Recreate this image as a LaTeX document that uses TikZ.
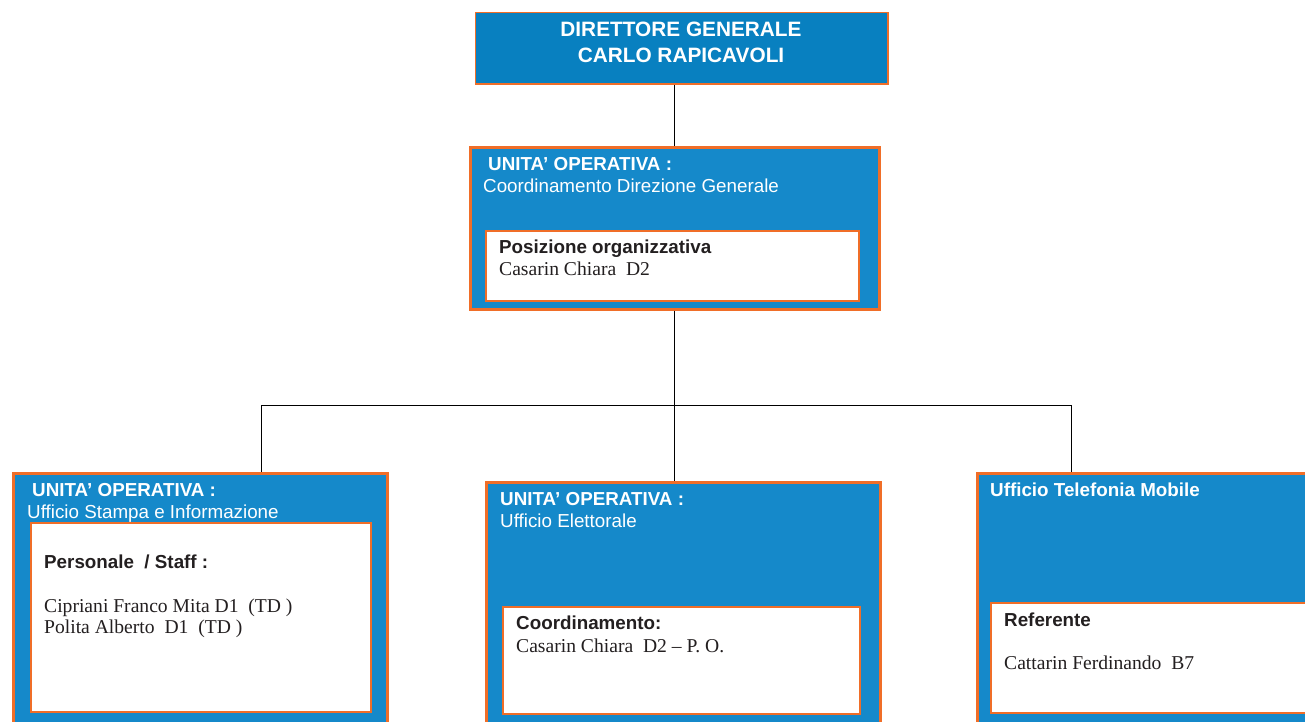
\documentclass[tikz,border=0pt]{standalone}
\usepackage{fontspec}
\setmainfont{Liberation Serif}
\setsansfont{Liberation Sans}
\definecolor{topblue}{RGB}{8,128,192}
\definecolor{boxblue}{RGB}{21,137,202}
\definecolor{edge}{RGB}{240,110,40}
\definecolor{ink}{RGB}{35,31,32}
\tikzset{
  topbox/.style={draw=edge,line width=1.5pt,fill=topblue,anchor=north west,inner sep=0pt},
  unitbox/.style={draw=edge,line width=3pt,fill=boxblue,anchor=north west,inner sep=0pt},
  whitebox/.style={draw=edge,line width=2pt,fill=white,anchor=north west,inner sep=0pt},
  conn/.style={draw=black,line width=1pt},
  hdtxt/.style={anchor=base west,inner sep=0pt,text=white,font=\fontsize{18.8}{22}\sffamily\bfseries},
  subtxt/.style={anchor=base west,inner sep=0pt,text=white,font=\fontsize{18.8}{22}\sffamily},
  labtxt/.style={anchor=base west,inner sep=0pt,text=ink,font=\fontsize{18.8}{22}\sffamily\bfseries},
  pertxt/.style={anchor=base west,inner sep=0pt,text=ink,font=\fontsize{19.6}{22}\rmfamily},
  ttltxt/.style={anchor=base,inner sep=0pt,text=white,font=\fontsize{20.8}{25}\sffamily\bfseries}
}
\begin{document}
\begin{tikzpicture}[x=1pt,y=-1pt]
\useasboundingbox (0,0) rectangle (1305,721);
\clip (0,0) rectangle (1305,721);
% boxes
\node[topbox,minimum width=412.5pt,minimum height=71.5pt] (top) at (474.75,11.75) {};
\node[unitbox,minimum width=409pt,minimum height=162pt] (uo1) at (468.5,145.5) {};
\node[whitebox,minimum width=373pt,minimum height=70pt] (w1) at (485,230) {};
\node[unitbox,minimum width=374pt,minimum height=262pt] (left) at (11.5,471.5) {};
\node[whitebox,minimum width=340pt,minimum height=189pt] (w2) at (30,522) {};
\node[unitbox,minimum width=394pt,minimum height=252pt] (mid) at (484.5,480.5) {};
\node[whitebox,minimum width=357pt,minimum height=107pt] (w3) at (502,606) {};
\node[unitbox,minimum width=360pt,minimum height=262pt] (right) at (975.5,471.5) {};
\node[whitebox,minimum width=340pt,minimum height=110pt] (w4) at (990,602) {};
% connectors
\coordinate (jl) at (261,405);
\coordinate (jr) at (1071,405);
\coordinate (j) at (uo1.south |- jl);
\draw[conn] (uo1.north |- top.south) -- (uo1.north);
\draw[conn] (uo1.south) -- (j);
\draw[conn] (jl) -- (jr);
\draw[conn] (jl) -- (jl |- left.north);
\draw[conn] (j) -- (j |- mid.north);
\draw[conn] (jr) -- (jr |- right.north);
% texts
\node[ttltxt] (t1) at (681,36.7) {DIRETTORE GENERALE};
\node[ttltxt] (t2) at (681,62) {CARLO RAPICAVOLI};
\node[hdtxt] (h1) at (488,170) {UNITA’ OPERATIVA :};
\node[subtxt] (s1) at (483,192) {Coordinamento Direzione Generale};
\node[labtxt] (l1) at (499,253) {Posizione organizzativa};
\node[pertxt] (n1) at (499,275) {Casarin Chiara\ \ D2};
\node[hdtxt] (h2) at (32,496) {UNITA’ OPERATIVA :};
\node[subtxt] (s2) at (27,518) {Ufficio Stampa e Informazione};
\node[labtxt] (l2) at (44,568) {Personale\ \ / Staff :};
\node[pertxt] (n2a) at (44,612) {Cipriani Franco Mita D1\ \ (TD )};
\node[pertxt] (n2b) at (44,633) {Polita Alberto\ \ D1\ \ (TD )};
\node[hdtxt] (h3) at (500,505) {UNITA’ OPERATIVA :};
\node[subtxt] (s3) at (500,527) {Ufficio Elettorale};
\node[labtxt] (l3) at (516,629) {Coordinamento:};
\node[pertxt] (n3) at (516,652) {Casarin Chiara\ \ D2 – P. O.};
\node[hdtxt] (h4) at (990,496) {Ufficio Telefonia Mobile};
\node[labtxt] (l4) at (1004,626) {Referente};
\node[pertxt] (n4) at (1004,669) {Cattarin Ferdinando\ \ B7};
\end{tikzpicture}
\end{document}
